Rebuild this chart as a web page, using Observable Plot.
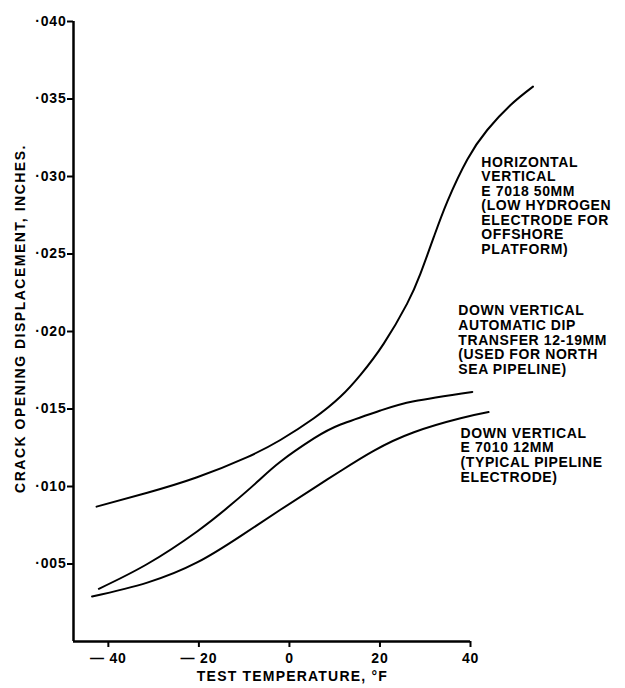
<!DOCTYPE html>
<html><head><meta charset="utf-8">
<script src="https://cdn.jsdelivr.net/npm/d3@7"></script>
<script src="https://cdn.jsdelivr.net/npm/@observablehq/plot@0.6"></script>
<style>body{margin:0;background:#fff}</style>
</head><body><div id="chart"></div>
<script>
// Series: [temperature °F, crack opening displacement inches]
const horizontalVertical = [[-42.6,0.0087],[-31.4,0.0096],[-20.4,0.0106],[-9.3,0.0119],[-2.0,0.0130],[5.4,0.0144],[11.3,0.0158],[15.7,0.0172],[20.8,0.0192],[26.0,0.0218],[28.9,0.0237],[31.9,0.0261],[34.9,0.0284],[39.3,0.0311],[43.7,0.0330],[48.8,0.0346],[53.8,0.0358]];
const automaticDip = [[-42.1,0.0034],[-31.4,0.0050],[-20.4,0.0071],[-13.0,0.0088],[-7.1,0.0103],[-2.0,0.0116],[5.4,0.0131],[11.3,0.0140],[20.1,0.0149],[27.5,0.0155],[40.4,0.0161]];
const e7010 = [[-43.6,0.0029],[-31.4,0.0038],[-20.4,0.0051],[-10.8,0.0068],[-2.0,0.0085],[5.4,0.0099],[11.3,0.0110],[18.6,0.0123],[27.5,0.0135],[37.8,0.0144],[44.0,0.0148]];
const xTicks = [-40,-20,0,20,40];
const xTickLabels = ["\u2014 40","\u2014 20","0","20","40"];
const yTicks = [0.005,0.010,0.015,0.020,0.025,0.030,0.035,0.040];
const labels = [
  {x:42.4, y:0.0313, text:"HORIZONTAL\nVERTICAL\nE 7018 50MM\n(LOW HYDROGEN\nELECTRODE FOR\nOFFSHORE\nPLATFORM)"},
  {x:37.3, y:0.0217, text:"DOWN VERTICAL\nAUTOMATIC DIP\nTRANSFER 12-19MM\n(USED FOR NORTH\nSEA PIPELINE)"},
  {x:37.8, y:0.0138, text:"DOWN VERTICAL\nE 7010 12MM\n(TYPICAL PIPELINE\nELECTRODE)"}
];
const xMin = -47.7, xMax = 40, yMin = 0, yMax = 0.040;

const toRows = (arr, name) => arr.map(([x,y]) => ({x, y, name}));
const rows = [...toRows(horizontalVertical,"hv"), ...toRows(automaticDip,"ad"), ...toRows(e7010,"e")];
const font = "'Liberation Sans', Arial, sans-serif";

const chart = Plot.plot({
  width: 625, height: 688,
  marginLeft: 73, marginRight: 155, marginTop: 21, marginBottom: 47,
  style: {fontFamily: font, fontSize: "12px", fontWeight: "bold", color: "#000", background: "#fff"},
  x: {domain: [xMin, xMax], axis: null},
  y: {domain: [yMin, yMax], axis: null},
  marks: [
    Plot.axisY(yTicks, {tickSize: 6, tickPadding: 1, tickFormat: d => "\u00b7" + String(Math.round(d*1000)).padStart(3,"0"), fontSize: 14, strokeWidth: 2, label: null}),
    Plot.axisX(xTicks, {tickSize: 6, tickPadding: 6, tickFormat: (d,i) => xTickLabels[i], fontSize: 14, strokeWidth: 2, label: null}),
    Plot.ruleX([xMin], {y1: yMin, y2: yMax, strokeWidth: 2.5}),
    Plot.ruleY([yMin], {x1: xMin, x2: xMax, strokeWidth: 2.5}),
    Plot.line(rows, {x: "x", y: "y", z: "name", curve: "natural", stroke: "#000", strokeWidth: 2}),
    Plot.text(labels, {x: "x", y: "y", text: "text", textAnchor: "start", lineAnchor: "top", lineHeight: 1.04, fontSize: 14, fill: "#000", ariaLabel: () => "notes"}),
    Plot.text(["CRACK OPENING DISPLACEMENT, INCHES."], {frameAnchor: "left", textAnchor: "middle", dx: -53, dy: -13, rotate: -90, fontSize: 14, fill: "#000", ariaLabel: () => "ytitle"}),
    Plot.text(["TEST TEMPERATURE, \u00b0F"], {x: 0, frameAnchor: "bottom", dx: 3, dy: 39, fontSize: 14, fill: "#000", ariaLabel: () => "xtitle"})
  ]
});
const svg = d3.select(chart);
svg.selectAll('text[aria-label="notes"]').style("letter-spacing", "0.6px");
svg.selectAll('text[aria-label="ytitle"]').style("letter-spacing", "1.5px");
svg.selectAll('text[aria-label="xtitle"]').style("letter-spacing", "1.2px");
svg.selectAll('g[aria-label="y-axis tick label"] text, g[aria-label="x-axis tick label"] text').style("letter-spacing", "0.8px");
document.getElementById("chart").appendChild(chart);
</script>
</body></html>
